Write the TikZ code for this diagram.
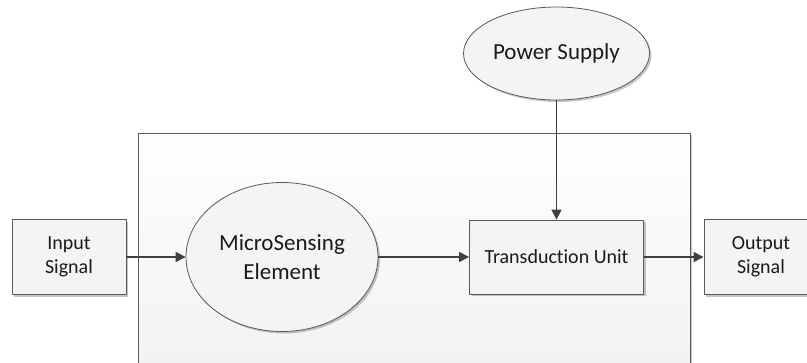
\documentclass[tikz,border=0pt]{standalone}
\usepackage{fontspec}
\setmainfont{Carlito}[Ligatures=NoCommon]
\usetikzlibrary{shapes.geometric,arrows.meta,shadows}
\definecolor{edgec}{HTML}{5A5A5A}
\definecolor{arrc}{HTML}{404040}
\definecolor{boxfill}{HTML}{F4F4F4}
\definecolor{bigfill}{HTML}{EFEFEF}
\definecolor{txtc}{HTML}{1A1A1A}
\tikzset{
  shad/.style={drop shadow={shadow xshift=2pt,shadow yshift=-2pt,opacity=0.22,fill=black}},
  box/.style={draw=edgec,line width=0.9pt,fill=boxfill,shad,inner sep=0pt,align=center,text=txtc,
    font=\fontsize{20}{24}\selectfont},
  oval/.style={ellipse,draw=edgec,line width=0.8pt,fill=boxfill,shad,inner sep=0pt,align=center,text=txtc,
    font=\fontsize{23}{29}\selectfont},
  conn/.style={draw=arrc,line width=1.4pt,-{Triangle[length=10pt,width=10pt]}}
}
\begin{document}
\begin{tikzpicture}[x=1pt,y=-1pt]
\clip (0,0) rectangle (807,362);
\fill[white] (0,0) rectangle (807,362);
\path[draw=edgec,line width=0.9pt,top color=white,bottom color=bigfill,shad] (138,133) rectangle (690,420);
\node[box,minimum width=114pt,minimum height=75pt] (in) at (69,257) {Input\\Signal};
\node[oval,minimum width=192pt,minimum height=149pt] (ms) at (282,257) {MicroSensing\\Element};
\node[box,minimum width=174pt,minimum height=74pt] (tu) at (556.5,257) {Transduction Unit};
\node[box,minimum width=114pt,minimum height=75pt] (out) at (761,257) {Output\\Signal};
\node[oval,minimum width=186pt,minimum height=93pt] (ps) at (556.5,53.5) {Power Supply};
\draw[conn] (in) -- (ms);
\draw[conn] (ms) -- (tu);
\draw[conn] (tu) -- (out);
\draw[conn] (ps) -- (tu);
\end{tikzpicture}
\end{document}
